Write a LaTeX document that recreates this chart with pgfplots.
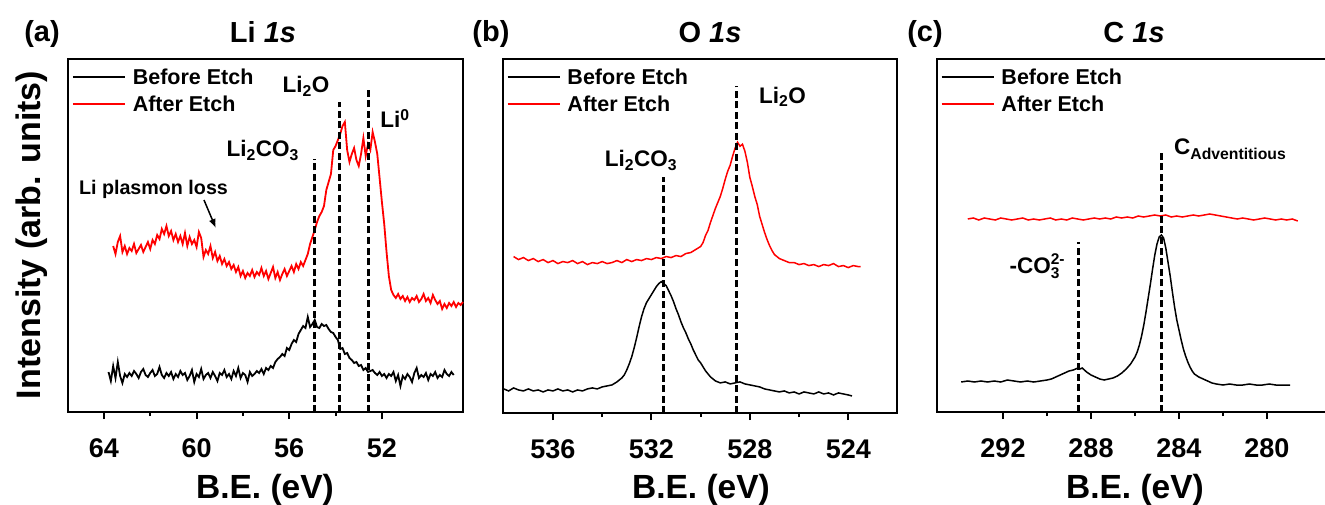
\documentclass[border=0pt]{standalone}
\usepackage{fontspec}
\setmainfont{Liberation Sans}
\usepackage{pgfplots}
\usepackage{pgfplotstable}
\pgfplotsset{compat=1.18}
\usetikzlibrary{arrows.meta}

\newcommand{\fs}[1]{\fontsize{#1}{#1}\selectfont\bfseries}

% ---------------- Li 1s ----------------
\pgfplotstableread[row sep=\\]{E I\\
63.8 40\\ 63.7 31\\ 63.6 46\\ 63.5 34\\ 63.4 50\\ 63.3 36\\ 63.2 29\\ 63.1 38\\ 63.0 35\\ 62.9 39\\
62.8 36\\ 62.7 41\\ 62.6 38\\ 62.5 34\\ 62.4 40\\ 62.3 43\\ 62.2 37\\ 62.1 35\\ 62.0 39\\ 61.9 42\\
61.8 36\\ 61.7 38\\ 61.6 45\\ 61.5 37\\ 61.4 34\\ 61.3 39\\ 61.2 36\\ 61.1 40\\ 61.0 33\\ 60.9 38\\
60.8 35\\ 60.7 41\\ 60.6 37\\ 60.5 39\\ 60.4 32\\ 60.3 36\\ 60.2 42\\ 60.1 30\\ 60.0 38\\ 59.9 35\\
59.8 43\\ 59.7 33\\ 59.6 37\\ 59.5 39\\ 59.4 34\\ 59.3 40\\ 59.2 36\\ 59.1 31\\ 59.0 39\\ 58.9 37\\
58.8 42\\ 58.7 35\\ 58.6 38\\ 58.5 33\\ 58.4 41\\ 58.3 36\\ 58.2 44\\ 58.1 34\\ 58.0 39\\ 57.9 37\\
57.8 30\\ 57.7 40\\ 57.6 36\\ 57.5 38\\ 57.4 41\\ 57.3 39\\ 57.2 43\\ 57.1 38\\ 57.0 44\\ 56.9 42\\
56.8 46\\ 56.7 44\\ 56.6 50\\ 56.5 53\\ 56.4 55\\ 56.3 58\\ 56.2 56\\ 56.1 64\\ 56.0 62\\ 55.9 68\\
55.8 72\\ 55.7 70\\ 55.6 78\\ 55.5 82\\ 55.4 86\\ 55.3 84\\ 55.2 95\\ 55.1 85\\ 55.0 88\\ 54.9 92\\
54.8 85\\ 54.7 84\\ 54.6 88\\ 54.5 86\\ 54.4 87\\ 54.3 83\\ 54.2 80\\ 54.1 79\\ 54.0 75\\ 53.9 72\\
53.8 63\\ 53.7 64\\ 53.6 58\\ 53.5 59\\ 53.4 54\\ 53.3 52\\ 53.2 49\\ 53.1 50\\ 53.0 46\\ 52.9 47\\
52.8 42\\ 52.7 44\\ 52.6 40\\ 52.5 41\\ 52.4 42\\ 52.3 39\\ 52.2 37\\ 52.1 40\\ 52.0 36\\ 51.9 38\\
51.8 34\\ 51.7 38\\ 51.6 36\\ 51.5 40\\ 51.4 31\\ 51.3 37\\ 51.2 26\\ 51.1 36\\ 51.0 33\\ 50.9 38\\
50.8 35\\ 50.7 30\\ 50.6 39\\ 50.5 44\\ 50.4 34\\ 50.3 37\\ 50.2 35\\ 50.1 39\\ 50.0 32\\ 49.9 38\\
49.8 36\\ 49.7 40\\ 49.6 34\\ 49.5 37\\ 49.4 35\\ 49.3 42\\ 49.2 38\\ 49.1 36\\ 49.0 40\\ 48.9 37\\
}\liBefore

\pgfplotstableread[row sep=\\]{E I\\
63.6 166\\ 63.5 158\\ 63.4 170\\ 63.3 176\\ 63.2 160\\ 63.1 166\\ 63.0 158\\ 62.9 164\\ 62.8 161\\ 62.7 168\\
62.6 159\\ 62.5 163\\ 62.4 167\\ 62.3 160\\ 62.2 165\\ 62.1 170\\ 62.0 163\\ 61.9 172\\ 61.8 168\\ 61.7 177\\
61.6 173\\ 61.5 183\\ 61.4 178\\ 61.3 186\\ 61.2 176\\ 61.1 181\\ 61.0 172\\ 60.9 178\\ 60.8 170\\ 60.7 176\\
60.6 168\\ 60.5 179\\ 60.4 166\\ 60.3 175\\ 60.2 168\\ 60.1 172\\ 60.0 165\\ 59.9 180\\ 59.8 174\\ 59.7 155\\
59.6 162\\ 59.5 158\\ 59.4 166\\ 59.3 154\\ 59.2 160\\ 59.1 151\\ 59.0 156\\ 58.9 148\\ 58.8 153\\ 58.7 146\\
58.6 150\\ 58.5 143\\ 58.4 147\\ 58.3 140\\ 58.2 145\\ 58.1 136\\ 58.0 141\\ 57.9 134\\ 57.8 139\\ 57.7 136\\
57.6 142\\ 57.5 135\\ 57.4 140\\ 57.3 137\\ 57.2 144\\ 57.1 136\\ 57.0 141\\ 56.9 133\\ 56.8 139\\ 56.7 145\\
56.6 134\\ 56.5 140\\ 56.4 132\\ 56.3 138\\ 56.2 143\\ 56.1 136\\ 56.0 141\\ 55.9 146\\ 55.8 140\\ 55.7 148\\
55.6 143\\ 55.5 150\\ 55.4 146\\ 55.3 152\\ 55.2 158\\ 55.1 168\\ 55.0 175\\ 54.9 182\\ 54.8 190\\ 54.7 196\\
54.6 200\\ 54.5 206\\ 54.4 222\\ 54.3 230\\ 54.2 238\\ 54.1 262\\ 54.0 266\\ 53.9 272\\ 53.8 278\\ 53.7 286\\
53.6 290\\ 53.5 262\\ 53.4 250\\ 53.3 258\\ 53.2 264\\ 53.1 252\\ 53.0 246\\ 52.9 258\\ 52.8 274\\ 52.7 256\\
52.6 268\\ 52.5 262\\ 52.4 280\\ 52.3 270\\ 52.2 258\\ 52.1 234\\ 52.0 210\\ 51.9 188\\ 51.8 160\\ 51.7 136\\
51.6 122\\ 51.5 117\\ 51.4 114\\ 51.3 118\\ 51.2 113\\ 51.1 116\\ 51.0 111\\ 50.9 115\\ 50.8 110\\ 50.7 114\\
50.6 112\\ 50.5 116\\ 50.4 110\\ 50.3 113\\ 50.2 118\\ 50.1 111\\ 50.0 114\\ 49.9 109\\ 49.8 117\\ 49.7 112\\
49.6 108\\ 49.5 111\\ 49.4 103\\ 49.3 108\\ 49.2 104\\ 49.1 109\\ 49.0 106\\ 48.9 110\\ 48.8 105\\ 48.7 109\\
48.6 107\\ 48.5 110\\
}\liAfter

% ---------------- O 1s ----------------
\pgfplotstableread[row sep=\\]{E I\\
538.0 24\\ 537.8 22\\ 537.6 25\\ 537.4 23\\ 537.2 22\\ 537.0 24\\ 536.8 22\\ 536.6 23\\ 536.4 21\\ 536.2 23\\
536.0 22\\ 535.8 24\\ 535.6 22\\ 535.4 23\\ 535.2 21\\ 535.0 23\\ 534.8 22\\ 534.6 24\\ 534.4 25\\ 534.2 24\\
534.0 26\\ 533.8 27\\ 533.6 28\\ 533.4 31\\ 533.2 35\\ 533.1 38\\ 533.0 43\\ 532.9 49\\ 532.8 56\\ 532.7 65\\
532.6 75\\ 532.5 86\\ 532.4 96\\ 532.3 104\\ 532.2 110\\ 532.1 114\\ 532.0 118\\ 531.9 122\\ 531.8 126\\ 531.7 129\\
531.6 131\\ 531.5 129\\ 531.4 127\\ 531.3 122\\ 531.2 117\\ 531.1 111\\ 531.0 104\\ 530.9 98\\ 530.8 91\\ 530.7 85\\
530.6 80\\ 530.5 74\\ 530.4 69\\ 530.3 63\\ 530.2 58\\ 530.1 53\\ 530.0 50\\ 529.9 46\\ 529.8 42\\ 529.7 39\\
529.6 36\\ 529.5 34\\ 529.4 32\\ 529.2 30\\ 529.0 31\\ 528.8 29\\ 528.6 30\\ 528.4 31\\ 528.2 29\\ 528.0 28\\
527.8 27\\ 527.6 26\\ 527.4 24\\ 527.2 23\\ 527.0 22\\ 526.8 21\\ 526.6 22\\ 526.4 20\\ 526.2 21\\ 526.0 19\\
525.8 21\\ 525.6 20\\ 525.4 19\\ 525.2 21\\ 525.0 19\\ 524.8 20\\ 524.6 18\\ 524.4 20\\ 524.2 19\\ 524.0 18\\
523.85 17\\
}\oBefore

\pgfplotstableread[row sep=\\]{E I\\
537.6 156\\ 537.4 153\\ 537.2 155\\ 537.0 152\\ 536.8 154\\ 536.6 151\\ 536.4 153\\ 536.2 150\\ 536.0 152\\ 535.8 149\\
535.6 151\\ 535.4 150\\ 535.2 152\\ 535.0 149\\ 534.8 151\\ 534.6 148\\ 534.4 150\\ 534.2 149\\ 534.0 151\\ 533.8 149\\
533.6 150\\ 533.4 152\\ 533.2 150\\ 533.0 153\\ 532.8 151\\ 532.6 153\\ 532.4 152\\ 532.2 154\\ 532.0 153\\ 531.8 155\\
531.6 154\\ 531.4 156\\ 531.2 155\\ 531.0 157\\ 530.8 156\\ 530.6 159\\ 530.4 160\\ 530.2 163\\ 530.0 166\\ 529.9 170\\
529.8 177\\ 529.7 182\\ 529.6 190\\ 529.5 197\\ 529.4 204\\ 529.3 210\\ 529.2 216\\ 529.1 224\\ 529.0 233\\ 528.9 241\\
528.8 247\\ 528.7 256\\ 528.6 264\\ 528.5 270\\ 528.4 266\\ 528.3 268\\ 528.2 261\\ 528.1 250\\ 528.0 235\\ 527.9 226\\
527.8 216\\ 527.7 208\\ 527.6 196\\ 527.5 188\\ 527.4 180\\ 527.3 173\\ 527.2 167\\ 527.1 162\\ 527.0 158\\ 526.9 156\\
526.8 154\\ 526.6 152\\ 526.4 150\\ 526.2 150\\ 526.0 148\\ 525.8 149\\ 525.6 147\\ 525.4 148\\ 525.2 146\\ 525.0 148\\
524.8 147\\ 524.6 149\\ 524.4 146\\ 524.2 147\\ 524.0 145\\ 523.8 147\\ 523.6 146\\ 523.5 146\\
}\oAfter

% ---------------- C 1s ----------------
\pgfplotstableread[row sep=\\]{E I\\
293.9 30\\ 293.6 31\\ 293.3 30\\ 293.0 31\\ 292.7 30\\ 292.4 31\\ 292.1 30\\ 291.8 32\\ 291.5 31\\ 291.2 30\\
290.9 31\\ 290.6 30\\ 290.3 31\\ 290.0 32\\ 289.8 33\\ 289.6 35\\ 289.4 37\\ 289.2 39\\ 289.0 41\\ 288.8 42\\
288.6 44\\ 288.5 43\\ 288.4 44\\ 288.3 42\\ 288.2 40\\ 288.0 37\\ 287.8 35\\ 287.6 33\\ 287.4 32\\ 287.2 33\\
287.0 34\\ 286.8 36\\ 286.6 39\\ 286.4 43\\ 286.2 48\\ 286.0 55\\ 285.9 60\\ 285.8 67\\ 285.7 76\\ 285.6 87\\
285.5 100\\ 285.4 114\\ 285.3 128\\ 285.2 143\\ 285.1 157\\ 285.0 168\\ 284.9 175\\ 284.8 177\\ 284.7 174\\ 284.6 164\\
284.5 150\\ 284.4 136\\ 284.3 120\\ 284.2 105\\ 284.1 92\\ 284.0 82\\ 283.9 72\\ 283.8 63\\ 283.7 56\\ 283.6 50\\
283.5 45\\ 283.4 41\\ 283.3 38\\ 283.1 35\\ 282.9 33\\ 282.7 31\\ 282.5 29\\ 282.3 28\\ 282.0 27\\ 281.7 28\\
281.4 27\\ 281.1 27\\ 280.8 28\\ 280.5 27\\ 280.2 27\\ 279.9 28\\ 279.6 27\\ 279.3 27\\ 278.95 27\\
}\cBefore

\pgfplotstableread[row sep=\\]{E I\\
293.6 193\\ 293.35 194\\ 293.1 192\\ 292.85 194\\ 292.6 193\\ 292.35 192\\ 292.1 194\\ 291.85 193\\ 291.6 192\\ 291.35 193\\
291.1 194\\ 290.85 192\\ 290.6 193\\ 290.35 192\\ 290.1 193\\ 289.85 194\\ 289.6 192\\ 289.35 193\\ 289.1 192\\ 288.85 194\\
288.6 193\\ 288.35 192\\ 288.1 193\\ 287.85 194\\ 287.6 193\\ 287.35 194\\ 287.1 193\\ 286.85 195\\ 286.6 194\\ 286.35 195\\
286.1 194\\ 285.85 196\\ 285.6 195\\ 285.35 196\\ 285.1 197\\ 284.85 196\\ 284.6 197\\ 284.35 195\\ 284.1 196\\ 283.85 195\\
283.6 196\\ 283.35 197\\ 283.1 196\\ 282.85 197\\ 282.6 198\\ 282.35 197\\ 282.1 196\\ 281.85 195\\ 281.6 194\\ 281.35 193\\
281.1 194\\ 280.85 193\\ 280.6 192\\ 280.35 193\\ 280.1 194\\ 279.85 193\\ 279.6 192\\ 279.35 193\\ 279.1 192\\ 278.85 193\\
278.6 191\\
}\cAfter

\tikzset{
  peak/.style={black, line width=3pt, dash pattern=on 7pt off 3.5pt},
  lbl/.style={font=\fs{22.5}, anchor=base},
}

\pgfplotsset{
  xps/.style={
    scale only axis, anchor=south west,
    x dir=reverse, ymin=0, ymax=353, ytick=\empty,
    xtick pos=left, tick align=outside,
    major tick length=7pt, minor tick length=4pt, minor x tick num=1,
    axis line style={line width=2pt},
    every tick/.style={line width=2pt, black},
    /pgf/number format/assume math mode=true,
    xticklabel style={font=\fs{27}, anchor=base, yshift=-38pt},
    legend cell align=left,
    legend style={draw=none, fill=none, font=\fs{21.5}, at={(axis description cs:0.002,0.985)},
      anchor=north west, row sep=6pt, column sep=5pt, inner xsep=3pt, inner ysep=2pt},
    legend image code/.code={\draw[##1] (0pt,0pt) -- (52pt,0pt);},
    clip=false,
  },
}

\begin{document}
\begin{tikzpicture}
% panel (a)
\begin{axis}[xps, at={(68pt,92pt)}, width=395pt, height=353pt,
  xmin=48.5, xmax=65.55, xtick={64,60,56,52}]
  \addplot[black, line width=1.8pt] table {\liBefore};
  \addlegendentry{Before Etch}
  \addplot[red, line width=1.8pt] table {\liAfter};
  \addlegendentry{After Etch}
  \addplot[peak, forget plot] coordinates {(54.89,0) (54.89,253)};
  \addplot[peak, forget plot] coordinates {(53.81,0) (53.81,310)};
  \addplot[peak, forget plot] coordinates {(52.56,0) (52.56,324)};
  \node[lbl] at (axis cs:57.14,255) {Li\textsubscript{2}CO\textsubscript{3}};
  \node[lbl] at (axis cs:55.28,319) {Li\textsubscript{2}O};
  \node[lbl] at (axis cs:51.44,284) {Li\textsuperscript{0}};
  \node[font=\fs{19.7}, anchor=base] at (axis cs:61.86,217) {Li plasmon loss};
  \draw[-{Latex[length=9pt,width=7pt]}, line width=1.5pt] (axis cs:59.68,212) -- (axis cs:59.17,184);
\end{axis}
% panel (b)
\begin{axis}[xps, at={(503pt,91pt)}, width=394pt, height=354pt,
  xmin=522.02, xmax=538.03, xtick={536,532,528,524}]
  \addplot[black, line width=1.5pt] table {\oBefore};
  \addlegendentry{Before Etch}
  \addplot[red, line width=1.5pt] table {\oAfter};
  \addlegendentry{After Etch}
  \addplot[peak, forget plot] coordinates {(531.49,0) (531.49,235)};
  \addplot[peak, forget plot] coordinates {(528.53,0) (528.53,326)};
  \node[lbl] at (axis cs:532.42,246) {Li\textsubscript{2}CO\textsubscript{3}};
  \node[lbl] at (axis cs:526.67,309) {Li\textsubscript{2}O};
\end{axis}
% panel (c)
\begin{axis}[xps, at={(937pt,92pt)}, width=394pt, height=353pt,
  xmin=277.09, xmax=295.0, xtick={292,288,284,280}]
  \addplot[black, line width=1.5pt] table {\cBefore};
  \addlegendentry{Before Etch}
  \addplot[red, line width=1.5pt] table {\cAfter};
  \addlegendentry{After Etch}
  \addplot[peak, forget plot] coordinates {(288.58,0) (288.58,170)};
  \addplot[peak, forget plot] coordinates {(284.79,0) (284.79,260)};
  \node[lbl] at (axis cs:290.45,139) {-CO\raisebox{-5pt}{\fs{15.5}\shortstack[l]{2-\\3}}};
  \node[lbl, anchor=base west] at (axis cs:284.38,257) {C\textsubscript{Adventitious}};
\end{axis}
% panel letters, element titles and axis titles
\node[anchor=base, font=\fs{29}] at (42pt,462pt) {(a)};
\node[anchor=base, font=\fs{29}] at (491pt,462pt) {(b)};
\node[anchor=base, font=\fs{29}] at (925pt,462pt) {(c)};
\node[anchor=base, font=\fs{29}] at (263pt,461pt) {Li \textit{1s}};
\node[anchor=base, font=\fs{29}] at (710pt,461pt) {O \textit{1s}};
\node[anchor=base, font=\fs{29}] at (1134pt,461pt) {C \textit{1s}};
\node[anchor=base, font=\fs{33.5}] at (265pt,6pt) {B.E. (eV)};
\node[anchor=base, font=\fs{33.5}] at (701pt,6pt) {B.E. (eV)};
\node[anchor=base, font=\fs{33.5}] at (1135pt,6pt) {B.E. (eV)};
\node[anchor=base, rotate=90, font=\fs{34}] at (40pt,269pt) {Intensity (arb. units)};
\pgfresetboundingbox
\path[use as bounding box] (0pt,0pt) rectangle (1325pt,504pt);
\end{tikzpicture}
\end{document}
